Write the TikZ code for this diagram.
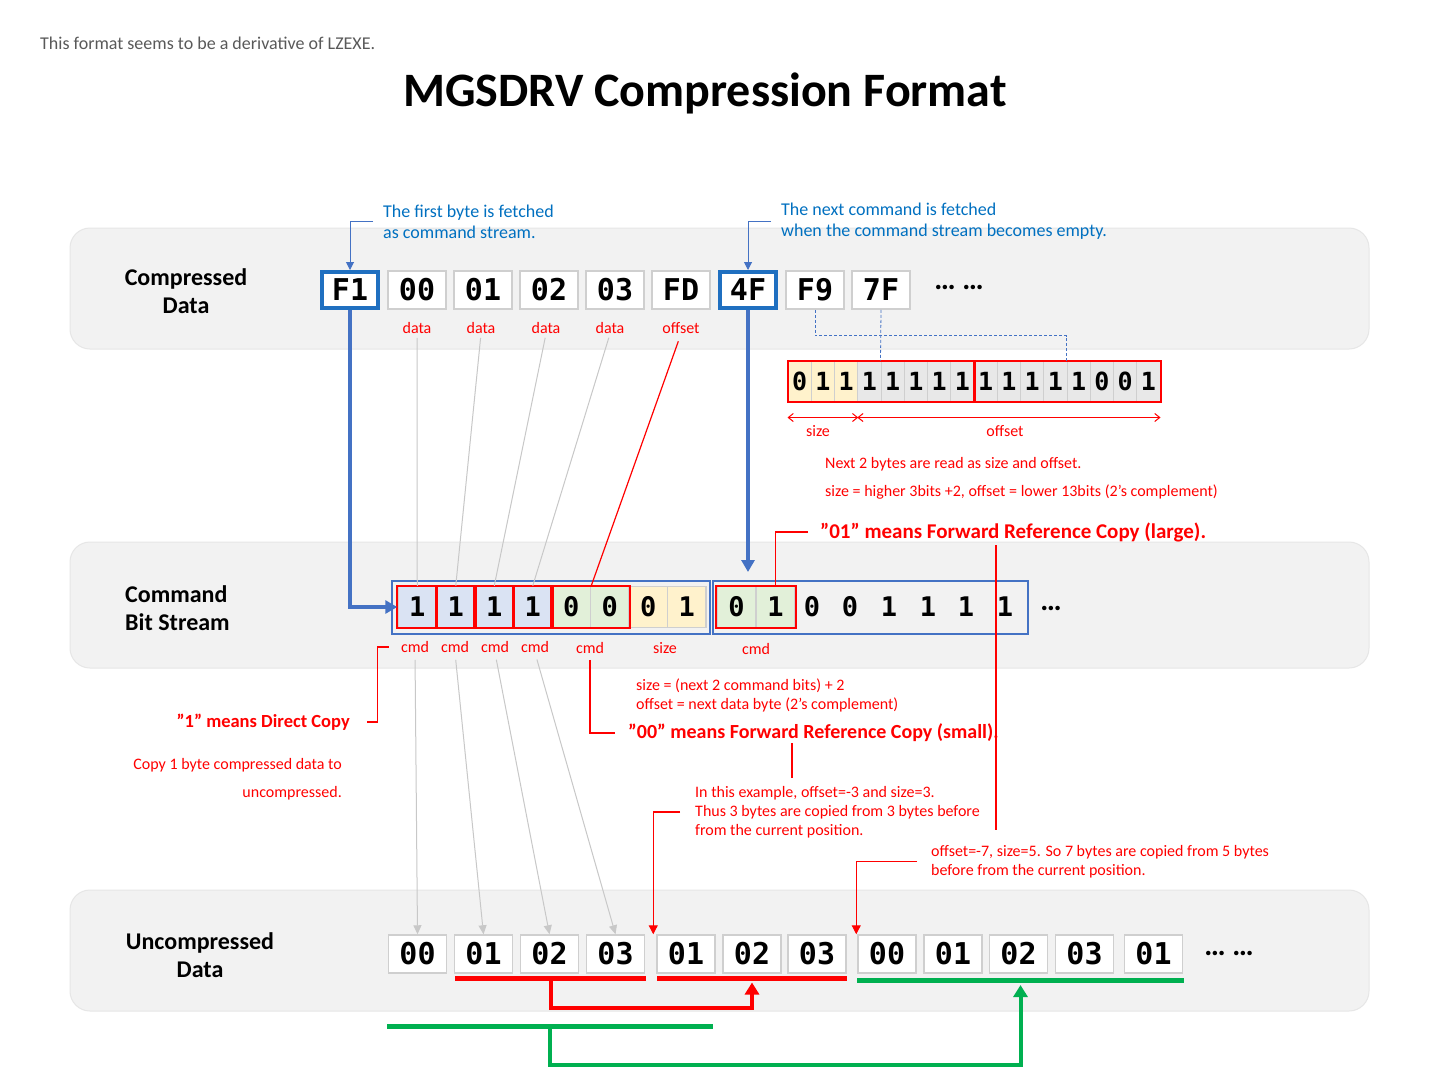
\documentclass[tikz,border=0pt]{standalone}
\usepackage{fontspec}
\setmainfont{Carlito}
\newfontfamily\monofam{DejaVu Sans Mono}
\usetikzlibrary{arrows.meta,calc}
\definecolor{bandgray}{HTML}{F2F2F2}
\definecolor{bandedge}{HTML}{E6E6E6}
\definecolor{bytegray}{HTML}{CFCFCF}
\definecolor{boxblue}{HTML}{1F6FC0}
\definecolor{arrblue}{HTML}{4472C4}
\definecolor{txtblue}{HTML}{0070C0}
\definecolor{subgray}{HTML}{595959}
\definecolor{cellblue}{HTML}{DAE3F3}
\definecolor{cellgreen}{HTML}{E2F0D9}
\definecolor{cellyellow}{HTML}{FFF2CC}
\definecolor{cellgray}{HTML}{E8E8E8}
\definecolor{sepgray}{HTML}{CFCFCF}
\definecolor{linegray}{HTML}{C8C8C8}
\definecolor{myred}{HTML}{FF0000}
\definecolor{mygreen}{HTML}{00B050}
\newcommand\fsz[2]{\fontsize{#1pt}{#2pt}\selectfont}
\begin{document}
\begin{tikzpicture}[x=1pt,y=-1pt,
  band/.style={draw=bandedge,fill=bandgray,line width=1pt,rounded corners=20pt},
  byte/.style={draw=bytegray,line width=1.5pt,fill=white,minimum width=58pt,minimum height=38pt,inner sep=0pt,font=\monofam\bfseries\fsz{30}{30}},
  cbyte/.style={byte,draw=boxblue,line width=4pt,minimum width=56pt,minimum height=36pt},
  lbl/.style={text=myred,font=\fsz{16}{18},inner sep=0pt},
  note/.style={text=myred,font=\fsz{16}{19},inner sep=0pt,align=left},
  bnote/.style={text=myred,font=\bfseries\fsz{20}{22},inner sep=0pt},
  bluenote/.style={text=txtblue,font=\fsz{18}{21},inner sep=0pt,align=left},
  bandlbl/.style={font=\bfseries\fsz{24}{28},inner sep=0pt},
  bitcell/.style={draw=sepgray,line width=1pt,minimum width=23.25pt,minimum height=40pt,inner sep=0pt,font=\monofam\bfseries\fsz{25}{25}},
  cbit/.style={draw=sepgray,line width=1.5pt,minimum width=38.5pt,minimum height=41pt,inner sep=0pt,font=\monofam\bfseries\fsz{27}{27}},
  redbox/.style={draw=myred,line width=2pt},
  bluebox/.style={draw=arrblue,line width=2pt},
  dots/.style={font=\bfseries\fsz{30}{30},inner sep=0pt},
  thickblue/.style={draw=arrblue,line width=4pt,-{Triangle[length=12pt,width=13pt]}},
  thinblue/.style={draw=arrblue,line width=1pt,-{Triangle[length=8pt,width=8pt]}},
  dashblue/.style={draw=arrblue,line width=0.8pt,dash pattern=on 3pt off 2pt},
  grayline/.style={draw=linegray,line width=1pt},
  grayarrow/.style={grayline,-{Triangle[length=9pt,width=8pt]}},
  redline/.style={draw=myred,line width=1.2pt},
  redarrow/.style={redline,-{Triangle[length=9pt,width=9pt]}},
  dimarrow/.style={draw=myred,line width=1pt,{Straight Barb[length=5pt,width=8pt]}-{Straight Barb[length=5pt,width=8pt]}},
  redbar/.style={draw=myred,line width=5pt},
  greenbar/.style={draw=mygreen,line width=5pt},
  redbracket/.style={draw=myred,line width=4pt,-{Triangle[length=12pt,width=14pt]}},
  greenbracket/.style={draw=mygreen,line width=4pt,-{Triangle[length=12pt,width=14pt]}},
]
\useasboundingbox[fill=white] (0,0) rectangle (1440,1080);

% bands
\path[band] (70,228) rectangle (1369,349);
\path[band] (70,542) rectangle (1369,668);
\path[band] (70,890) rectangle (1369,1011);

% header
\node[anchor=west,text=subgray,font=\fsz{18}{20},inner sep=0pt] (subt) at (40,43) {This format seems to be a derivative of LZEXE.};
\node[font=\bfseries\fsz{48}{52},inner sep=0pt] (title) at (705,93) {MGSDRV Compression Format};

% band labels
\node[bandlbl,align=center] (lab1) at (186,291) {Compressed\\Data};
\node[bandlbl,align=left,anchor=west] (lab2) at (125,608) {Command\\Bit Stream};
\node[bandlbl,align=center] (lab3) at (200,955) {Uncompressed\\Data};

% compressed data bytes
\node[cbyte] (F1) at (350,290) {F1};
\node[byte] (b00) at (417,290) {00};
\node[byte] (b01) at (483,290) {01};
\node[byte] (b02) at (549,290) {02};
\node[byte] (b03) at (615,290) {03};
\node[byte] (bFD) at (681,290) {FD};
\node[cbyte] (c4F) at (748,290) {4F};
\node[byte] (bF9) at (815,290) {F9};
\node[byte] (b7F) at (881,290) {7F};
\node[dots] (dots1) at (959,287) {… …};

\node[lbl] (d1) at (417,328) {data};
\node[lbl] (d2) at (481,328) {data};
\node[lbl] (d3) at (546,328) {data};
\node[lbl] (d4) at (610,328) {data};
\node[lbl] (off) at (681,328) {offset};

% blue notes
\node[bluenote,anchor=west] (t1) at (383,221.5) {The first byte is fetched\\as command stream.};
\node[bluenote,anchor=west] (t2) at (781,221.5) {The next command is fetched\\when the command stream becomes empty.};
\draw[thinblue] ([xshift=-10pt]t1.west) -| (F1.north);
\draw[thinblue] ([xshift=-10pt]t2.west) -| (c4F.north);

% 16-bit row
\foreach \b [count=\i from 0] in {0,1,1} {
  \node[bitcell,fill=cellyellow] (k\i) at ({788+23.25*(\i+0.5)},381) {\b};
}
\foreach \b [count=\i from 3] in {1,1,1,1,1,1,1,1,1,1,0,0,1} {
  \node[bitcell,fill=cellgray] (k\i) at ({788+23.25*(\i+0.5)},381) {\b};
}
\draw[redbox] (k0.north west) rectangle (k7.south east);
\draw[redbox] (k8.north west) rectangle (k15.south east);
\draw[dashblue] (bF9.south) |- ($(k12.north west)+(0,-25)$) -- (k12.north west);
\draw[dashblue] (b7F.south) -- (k4.north west);

\draw[dimarrow] ($(k0.south west)+(0,16)$) -- ($(k2.south east)+(0,16)$);
\draw[dimarrow] ($(k3.south west)+(0,16)$) -- ($(k15.south east)+(0,16)$);
\node[lbl] (szl) at (818,431) {size};
\node[lbl] (ofl) at (1005,431) {offset};
\node[note,anchor=west,font=\fsz{16}{28}] (nx) at (825,478) {Next 2 bytes are read as size and offset.\\size = higher 3bits +2, offset = lower 13bits (2’s complement)};

% command bit stream, group 1
\foreach \b [count=\i from 0] in {1,1,1,1} {
  \node[cbit,fill=cellblue] (c\i) at ({398+38.5*(\i+0.5)},607) {\b};
}
\foreach \b [count=\i from 4] in {0,0} {
  \node[cbit,fill=cellgreen] (c\i) at ({398+38.5*(\i+0.5)},607) {\b};
}
\foreach \b [count=\i from 6] in {0,1} {
  \node[cbit,fill=cellyellow] (c\i) at ({398+38.5*(\i+0.5)},607) {\b};
}
\foreach \i in {0,1,2,3} { \draw[redbox] (c\i.north west) rectangle (c\i.south east); }
\draw[redbox] (c4.north west) rectangle (c5.south east);
\draw[bluebox] ($(c0.north west)+(-5,-5)$) rectangle ($(c7.south east)+(3,6)$);

% command bit stream, group 2
\node[cbit,fill=cellgreen,minimum width=39pt] (e0) at (736.5,607) {0};
\node[cbit,fill=cellgreen,minimum width=39pt] (e1) at (775.5,607) {1};
\draw[redbox] (e0.north west) rectangle (e1.south east);
\node[cbit,draw=none] (e2) at (812,607) {0};
\node[cbit,draw=none] (e3) at (850,607) {0};
\node[cbit,draw=none] (e4) at (889,607) {1};
\node[cbit,draw=none] (e5) at (928,607) {1};
\node[cbit,draw=none] (e6) at (966,607) {1};
\node[cbit,draw=none] (e7) at (1005,607) {1};
\draw[bluebox] (713,581) rectangle (1028,634);
\node[dots] (dots2) at (1051,608) {…};
\coordinate (g2top) at (748,572);

\node[lbl] (cm1) at (415,647) {cmd};
\node[lbl] (cm2) at (455,647) {cmd};
\node[lbl] (cm3) at (495,647) {cmd};
\node[lbl] (cm4) at (535,647) {cmd};
\node[lbl] (cm5) at (590,648) {cmd};
\node[lbl] (sz) at (665,648) {size};
\node[lbl] (cm6) at (756,649) {cmd};

% thick blue feeds
\draw[thickblue] (F1.south) |- (c0.west);
\draw[thickblue] (c4F.south) -- (g2top);

% data to cmd lines
\draw[grayline,shorten <=4pt] (d1.south) -- (c0.north);
\draw[grayline,shorten <=4pt] (d2.south) -- (c1.north);
\draw[grayline,shorten <=4pt] (d3.south) -- (c2.north);
\draw[grayline,shorten <=4pt] (d4.south) -- (c3.north);
\draw[redline,shorten <=8pt] (off.south) -- (c4.north east);

% uncompressed bytes
\node[byte] (u0) at (417.5,954) {00};
\node[byte] (u1) at (483.5,954) {01};
\node[byte] (u2) at (549.5,954) {02};
\node[byte] (u3) at (615.5,954) {03};
\node[byte] (u4) at (686,954) {01};
\node[byte] (u5) at (752,954) {02};
\node[byte] (u6) at (817,954) {03};
\node[byte] (u7) at (887,954) {00};
\node[byte] (u8) at (953,954) {01};
\node[byte] (u9) at (1018.5,954) {02};
\node[byte] (u10) at (1084.5,954) {03};
\node[byte] (u11) at (1153.5,954) {01};
\node[dots] (dots3) at (1229,953) {… …};

% direct copy arrows
\draw[grayarrow,shorten <=7pt] (cm1.south) -- (u0.north);
\draw[grayarrow,shorten <=7pt] (cm2.south) -- (u1.north);
\draw[grayarrow,shorten <=7pt] (cm3.south) -- (u2.north);
\draw[grayarrow,shorten <=7pt] (cm4.south) -- (u3.north);

% left notes
\node[bnote,anchor=east,font=\bfseries\fsz{18.5}{22}] (dc) at (350,722) {”1” means Direct Copy};
\node[note,anchor=east,align=right,font=\fsz{16}{28}] (dcn) at (342,779) {Copy 1 byte compressed data to\\uncompressed.};
\draw[redline] ([xshift=-12pt]cm1.west) -- ++(-11,0) |- ([xshift=17pt]dc.east);

% small forward reference
\node[note,anchor=west] (sn) at (636,695.5) {size = (next 2 command bits) + 2\\offset = next data byte (2’s complement)};
\node[bnote,anchor=west,font=\bfseries\fsz{20}{22}] (fr) at (628,733) {”00” means Forward Reference Copy (small).};
\draw[redline,shorten <=6pt] (cm5.south) |- ([xshift=-13pt]fr.west);
\coordinate (fra) at (792,743);
\coordinate (frb) at (792,778);
\draw[redline] (fra) -- (frb);
\node[note,anchor=west] (ex) at (695,812) {In this example, offset=-3 and size=3.\\Thus 3 bytes are copied from 3 bytes before\\from the current position.};
\draw[redarrow] ([xshift=-15pt]ex.west) -| ($(u4.north west)+(-3,0)$);

% large forward reference
\node[bnote,anchor=west,font=\bfseries\fsz{21}{22}] (lg) at (820,532) {”01” means Forward Reference Copy (large).};
\draw[redline] ([xshift=-12pt]lg.west) -| (e1.north);
\coordinate (lga) at (996,545);
\coordinate (lgb) at (996,830);
\draw[redline] (lga) -- (lgb);
\node[note,anchor=west] (o7) at (931,861.5) {offset=-7, size=5. So 7 bytes are copied from 5 bytes\\before from the current position.};
\draw[redarrow] ([xshift=-14pt]o7.west) -| ($(u7.north west)+(-1,0)$);

% copy bars and brackets
\coordinate (rb1s) at (455,978.5);
\coordinate (rb1e) at (646,978.5);
\coordinate (rb2s) at (657,978.5);
\coordinate (rb2e) at (847,978.5);
\coordinate (gb1s) at (387,1026);
\coordinate (gb1e) at (713,1026);
\coordinate (gb2s) at (857,980);
\coordinate (gb2e) at (1184,980);
\draw[redbar] (rb1s) -- (rb1e);
\draw[redbar] (rb2s) -- (rb2e);
\draw[greenbar] (gb1s) -- (gb1e);
\draw[greenbar] (gb2s) -- (gb2e);
\draw[redbracket] ($(rb1s)!.5!(rb1e)$) -- ++(0,29) -| ($(rb2s)!.5!(rb2e)+(0,4)$);
\draw[greenbracket] ($(gb1s)!.5!(gb1e)$) -- ++(0,39) -| ($(gb2s)!.5!(gb2e)+(0,5)$);
\end{tikzpicture}
\end{document}
